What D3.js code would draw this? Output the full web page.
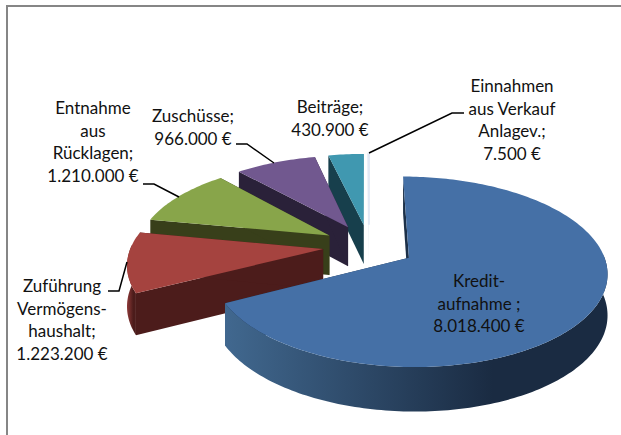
<!DOCTYPE html>
<html>
<head>
<meta charset="utf-8">
<script src="https://cdn.jsdelivr.net/npm/d3@7"></script>
<style>
  body { margin: 0; background: #fff; }
  svg { display: block; }
  text { font-family: Lato, "Open Sans", sans-serif; font-size: 17px; fill: #111; text-anchor: middle; }
</style>
</head>
<body>
<div id="chart"></div>
<script>
// Chart Data
const categories = ["Kredit-aufnahme", "Zuführung Vermögens-haushalt", "Entnahme aus Rücklagen", "Zuschüsse", "Beiträge", "Einnahmen aus Verkauf Anlagev."];
const values = [8018400, 1223200, 1210000, 966000, 430900, 7500];
const labelLines = [
  ["Kredit-", "aufnahme ;", "8.018.400 €"],
  ["Zuführung", "Vermögens-", "haushalt;", "1.223.200 €"],
  ["Entnahme", "aus", "Rücklagen;", "1.210.000 €"],
  ["Zuschüsse;", "966.000 €"],
  ["Beiträge;", "430.900 €"],
  ["Einnahmen", "aus Verkauf", "Anlagev.;", "7.500 €"]
];

// Slice Colours
const topColors = ["#4570a6", "#a5433f", "#88a54a", "#71588f", "#4098b0", "#e2e8f4"];
const wallColors = ["#1c3048", "#4c1c1b", "#383f1a", "#2a2139", "#173f4c", "#d8dde8"];
const rimLeft = ["#41688f", "#8e3a38", "#56692f", "#483859", "#2a6677", "#d8dde8"];
const rimRight = ["#1a2b42", "#4c1c1b", "#383f1a", "#2a2139", "#173f4c", "#d8dde8"];

// Label Placement (Centre X, First Baseline)
const labelPos = [[479, 287], [62, 292], [93, 114], [193, 122], [330, 113], [512, 92]];
const lineHeight = 22.6;

// Leader Lines
const leaders = [
  [[108, 291], [119, 291], [127, 262]],
  [[143, 184], [154, 184], [179, 197]],
  [[236, 144], [247, 144], [274, 163]],
  [[369, 153], [452, 113], [464, 113]]
];

// Dimensions For SVG Element
const w = 621, h = 435;
const cx = 369, cy = 246;
const explode = 0.24;

let svg = d3.select("#chart").append("svg").attr("width", w).attr("height", h);
let defs = svg.append("defs");

// Perspective Projection Of Ground Plane (x right, y towards viewer)
function project(x, y, z) {
  return [
    cx + x * 192 * (1 + 0.15 * y),
    cy + 91.7 * y + 14 * y * y + z * 40 * (1 + 0.1 * y)
  ];
}

let line = d3.line();
let slices = d3.pie().sort(null).value((d) => d)(values);

// Draw From Back To Front
let order = d3.range(values.length).reverse();

order.forEach((i) => {
  let s = slices[i];
  let mid = (s.startAngle + s.endAngle) / 2;
  let ox = explode * Math.sin(mid), oy = -explode * Math.cos(mid);

  let steps = Math.max(2, Math.ceil((s.endAngle - s.startAngle) / 0.02));
  let angles = d3.range(steps + 1).map((k) => s.startAngle + (s.endAngle - s.startAngle) * k / steps);
  let point = (a, z) => project(ox + Math.sin(a), oy - Math.cos(a), z);
  let apex = (z) => project(ox, oy, z);

  let g = svg.append("g").attr("class", "slice").attr("data-name", categories[i]);

  // Radial Walls
  [s.startAngle, s.endAngle].forEach((a) => {
    g.append("path").attr("d", line([apex(0), point(a, 0), point(a, 1), apex(1)]) + "Z").attr("fill", wallColors[i]);
  });

  // Outer Rim, Only The Part Facing The Viewer
  let front = angles.filter((a) => Math.cos(a) < 0.05);
  if (front.length > 1) {
    let xs = front.map((a) => point(a, 0)[0]);
    let gradId = "rim" + i;
    let grad = defs.append("linearGradient").attr("id", gradId)
      .attr("gradientUnits", "userSpaceOnUse")
      .attr("x1", d3.min(xs)).attr("x2", d3.max(xs)).attr("y1", 0).attr("y2", 0);
    grad.append("stop").attr("offset", "0%").attr("stop-color", rimLeft[i]);
    grad.append("stop").attr("offset", "70%").attr("stop-color", rimRight[i]);
    grad.append("stop").attr("offset", "100%").attr("stop-color", rimRight[i]);

    let band = front.map((a) => point(a, 0)).concat(front.slice().reverse().map((a) => point(a, 1)));
    g.append("path").attr("d", line(band) + "Z").attr("fill", "url(#" + gradId + ")");
  }

  // Top Face
  g.append("path").attr("d", line([apex(0)].concat(angles.map((a) => point(a, 0)))) + "Z").attr("fill", topColors[i])
    .attr("stroke", i == 5 ? topColors[i] : "none").attr("stroke-width", i == 5 ? 2 : 0);
});

// Leader Lines
leaders.forEach((l) => {
  svg.append("path").attr("d", line(l)).attr("fill", "none").attr("stroke", "#000").attr("stroke-width", 1.5);
});

// Data Labels
labelLines.forEach((lines, i) => {
  let t = svg.append("text").attr("x", labelPos[i][0]).attr("y", labelPos[i][1]);
  lines.forEach((d, k) => {
    t.append("tspan").attr("x", labelPos[i][0]).attr("y", labelPos[i][1] + k * lineHeight).text(d);
  });
});

// Chart Border (Right And Bottom Are Cropped)
svg.append("path").attr("d", "M7,435V6H621").attr("fill", "none").attr("stroke", "#868686").attr("stroke-width", 2);
</script>
</body>
</html>
